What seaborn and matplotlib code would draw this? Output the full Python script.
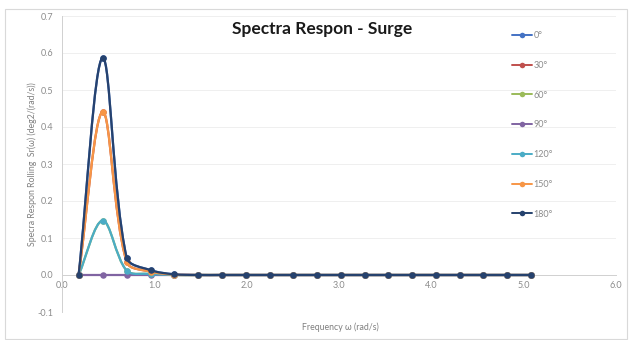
import numpy as np
import matplotlib
matplotlib.use("Agg")
import matplotlib.pyplot as plt
from matplotlib.path import Path
from matplotlib.patches import PathPatch, Rectangle
from matplotlib.lines import Line2D
import seaborn as sns

# Frequencies (rad/s)
omega = [0.18, 0.44, 0.70, 0.96, 1.21, 1.47, 1.73, 1.99, 2.25, 2.50,
         2.76, 3.02, 3.28, 3.53, 3.79, 4.05, 4.31, 4.56, 4.82, 5.08]

# Spectral response per heading
s_0 = [0.0, 0.587, 0.047, 0.013, 0.002] + [0.0] * 15
s_30 = [0.0, 0.441, 0.035, 0.009, 0.001] + [0.0] * 15
s_60 = [0.0, 0.147, 0.012, 0.003, 0.0] + [0.0] * 15
s_90 = [0.0] * 20
s_120 = [0.0, 0.147, 0.012, 0.003, 0.0] + [0.0] * 15
s_150 = [0.0, 0.441, 0.035, 0.009, 0.001] + [0.0] * 15
s_180 = [0.0, 0.587, 0.047, 0.013, 0.002] + [0.0] * 15

headings = ["0°", "30°", "60°", "90°", "120°", "150°", "180°"]
series = [s_0, s_30, s_60, s_90, s_120, s_150, s_180]
colors = ["#4472C4", "#C0504D", "#9BBB59", "#8064A2", "#4BACC6", "#F79646", "#26426E"]

x_ticks = [0.0, 1.0, 2.0, 3.0, 4.0, 5.0, 6.0]
y_ticks = [-0.1, 0.0, 0.1, 0.2, 0.3, 0.4, 0.5, 0.6, 0.7]

sns.set_theme(style="white")
plt.rcParams["font.family"] = ["Lato", "DejaVu Sans"]

W, H = 629, 340
fig = plt.figure(figsize=(W / 100, H / 100), dpi=100)
ax = fig.add_axes([62 / W, 1 - 312 / H, (616 - 62) / W, (312 - 16) / H])
ax.set_xlim(0, 6.0)
ax.set_ylim(-0.1, 0.7)

# Chart-area border
fig.patches.append(Rectangle((5 / W, 1 / H), (W - 7) / W, (H - 10) / H,
                             transform=fig.transFigure, fill=False,
                             edgecolor="#d9d9d9", lw=0.8))

grid_c = "#efefef"
for yv in y_ticks:
    if yv != 0.0:
        ax.axhline(yv, color=grid_c, lw=0.7, zorder=0)
ax.axvline(6.0, color=grid_c, lw=0.7, zorder=0)

for sp in ["top", "right"]:
    ax.spines[sp].set_visible(False)
ax.spines["left"].set_color("#d0d0d0")
ax.spines["left"].set_linewidth(0.7)
ax.spines["bottom"].set_position(("data", 0.0))
ax.spines["bottom"].set_color("#d0d0d0")
ax.spines["bottom"].set_linewidth(0.7)

ax.set_xticks(x_ticks)
ax.set_yticks(y_ticks)
ax.set_xticklabels([f"{v:.1f}" for v in x_ticks])
ax.set_yticklabels([f"{v:.1f}" for v in y_ticks])
ax.tick_params(axis="both", length=0, labelsize=6.5, labelcolor="#8c8c8c")
ax.tick_params(axis="x", pad=4)
ax.tick_params(axis="y", pad=6)


def smooth_curve(xs, ys):
    """Bezier path through the points, with segment-length weighted tangents."""
    pts = ax.transData.transform(np.column_stack([xs, ys]))
    n = len(pts)
    verts = [pts[0]]
    codes = [Path.MOVETO]
    for i in range(n - 1):
        p0 = pts[i - 1] if i > 0 else pts[i]
        p1 = pts[i]
        p2 = pts[i + 1]
        p3 = pts[i + 2] if i + 2 < n else pts[i + 1]
        d01 = np.hypot(*(p1 - p0))
        d12 = np.hypot(*(p2 - p1))
        d23 = np.hypot(*(p3 - p2))
        f1 = d12 / (d01 + d12) / 3 if d01 + d12 > 0 else 0
        f2 = d12 / (d12 + d23) / 3 if d12 + d23 > 0 else 0
        c1 = p1 + (p2 - p0) * f1
        c2 = p2 - (p3 - p1) * f2
        verts += [c1, c2, p2]
        codes += [Path.CURVE4] * 3
    verts = ax.transData.inverted().transform(np.array(verts))
    return Path(verts, codes)


handles = []
for k, (lab, ys, c) in enumerate(zip(headings, series, colors)):
    patch = PathPatch(smooth_curve(omega, ys), facecolor="none", edgecolor=c,
                      lw=1.6, zorder=2 + 2 * k, capstyle="round", joinstyle="round")
    ax.add_patch(patch)
    sns.scatterplot(x=omega, y=ys, ax=ax, color=c, s=22, linewidth=0,
                    zorder=3 + 2 * k, legend=False)
    handles.append(Line2D([], [], color=c, lw=1.4, marker="o", markersize=4,
                          markeredgewidth=0))

leg = fig.legend(handles, headings, loc="upper left",
                 bbox_to_anchor=(512 / W, 1 - 31 / H), frameon=False,
                 fontsize=6.5, labelspacing=2.3, handlelength=2.2,
                 handletextpad=0.2, borderpad=0, borderaxespad=0, numpoints=1)
for t in leg.get_texts():
    t.set_color("#8c8c8c")

fig.text(322 / W, 1 - 29 / H, "Spectra Respon - Surge", ha="center", va="center",
         fontsize=12.5, fontweight="bold", color="#1a1a1a")
fig.text(340 / W, 1 - 327 / H, "Frequency ω (rad/s)", ha="center", va="center",
         fontsize=6.3, color="#7f7f7f")
fig.text(32 / W, 1 - 164 / H, "Specra Respon Rolling  Sr(ω) (deg2/(rad/s))",
         ha="center", va="center", rotation=90, fontsize=6.3, color="#7f7f7f")

fig.savefig("out.png", dpi=100, facecolor="white")
